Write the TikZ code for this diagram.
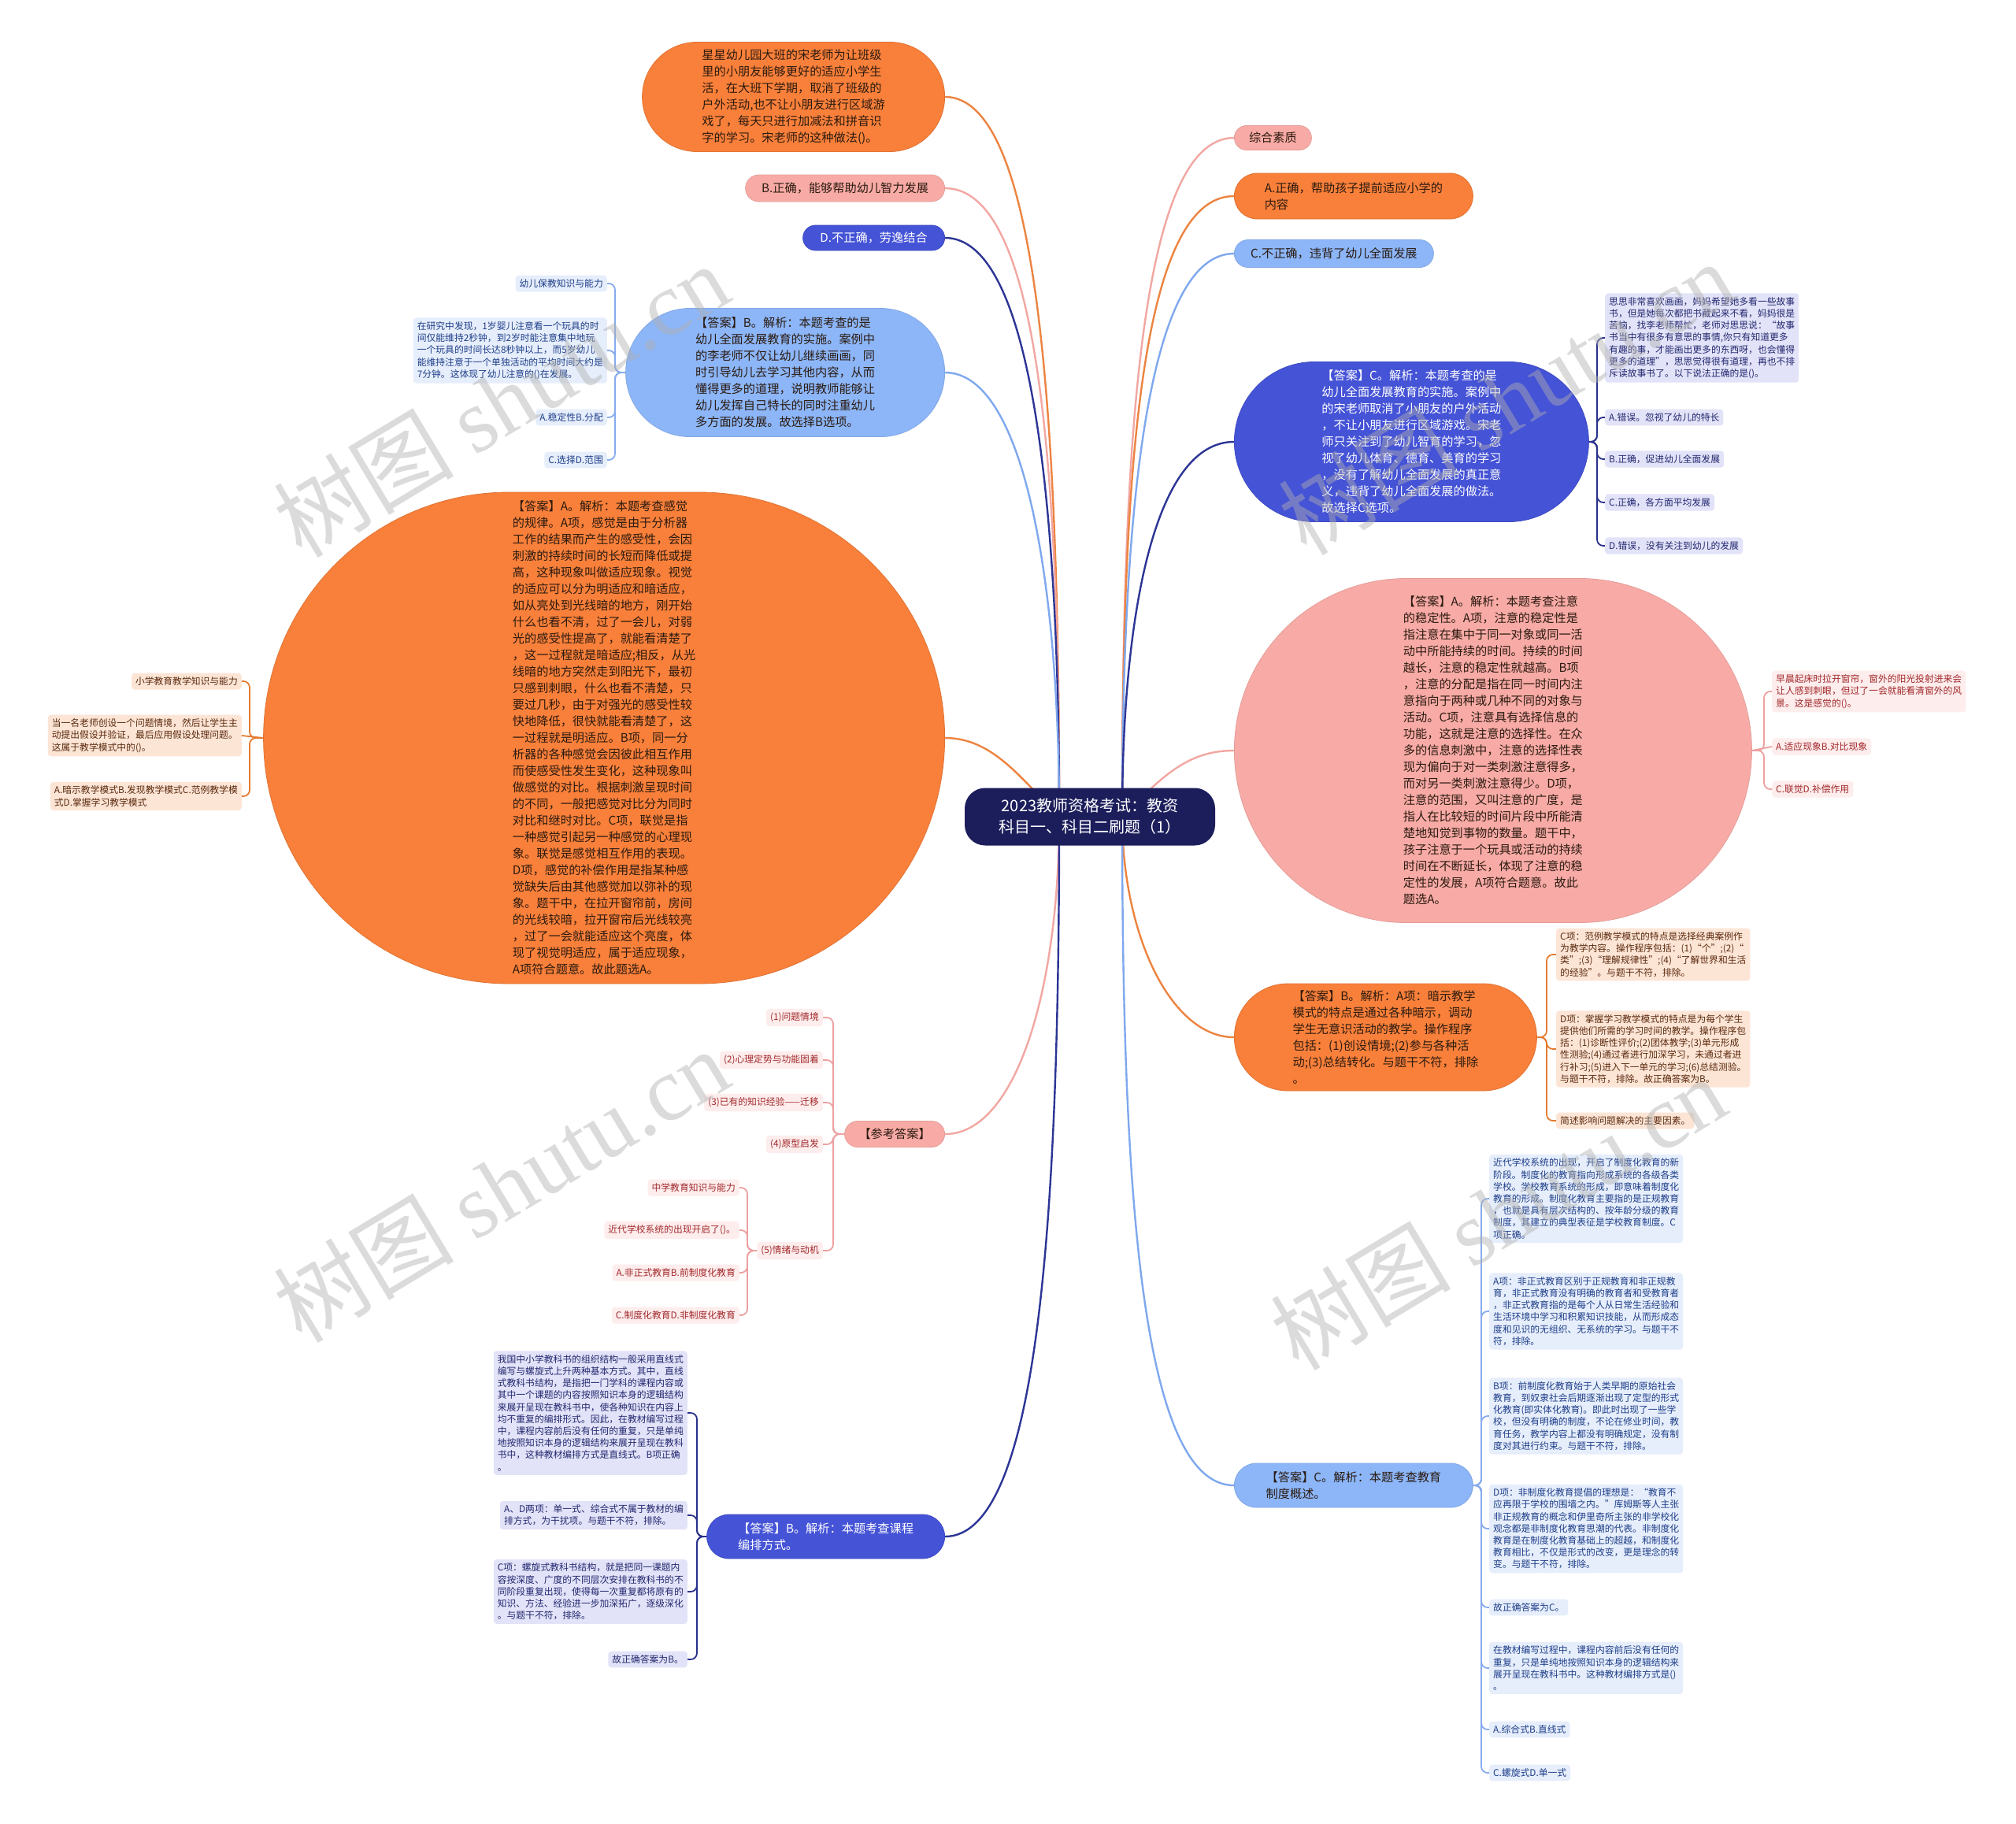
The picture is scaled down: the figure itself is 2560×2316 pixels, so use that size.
\documentclass[tikz,border=0pt]{standalone}
\usepackage{fontspec}
\setmainfont{Noto Sans CJK SC}
\newfontfamily\wmserif{Liberation Serif}
\usetikzlibrary{shapes.misc,backgrounds,calc}
\definecolor{orF}{HTML}{F9803A}
\definecolor{orL}{HTML}{EC8441}
\definecolor{pkF}{HTML}{F8ABA6}
\definecolor{pkL}{HTML}{F2A7A2}
\definecolor{nvF}{HTML}{4553D6}
\definecolor{nvL}{HTML}{2C3595}
\definecolor{lbF}{HTML}{8CB6F8}
\definecolor{lbL}{HTML}{7FA8EE}
\definecolor{rootF}{HTML}{1C1E5C}
\definecolor{tDark}{HTML}{2B1A10}
\definecolor{cOrF}{HTML}{FDE5D6}
\definecolor{cOrT}{HTML}{5A2A0E}
\definecolor{cOrL}{HTML}{E37B32}
\definecolor{cPkF}{HTML}{FDEDEC}
\definecolor{cPkT}{HTML}{A2282C}
\definecolor{cPkL}{HTML}{EDA0A0}
\definecolor{cNvF}{HTML}{E2E3F8}
\definecolor{cNvT}{HTML}{23276E}
\definecolor{cNvL}{HTML}{28308A}
\definecolor{cLbF}{HTML}{E6EEFC}
\definecolor{cLbT}{HTML}{1E3E88}
\definecolor{cLbL}{HTML}{86ABEE}
\definecolor{wmC}{HTML}{B0B0B0}
\tikzset{
  big/.style={rounded rectangle, inner xsep=0pt, inner ysep=0pt, align=left,
    font=\fontsize{15.2}{21}\selectfont, line width=0.8pt},
  orB/.style={big, fill=orF, draw=orF!90!black, text=tDark},
  pkB/.style={big, fill=pkF, draw=pkF!92!black, text=tDark},
  nvB/.style={big, fill=nvF, draw=nvF!90!black, text=white},
  lbB/.style={big, fill=lbF, draw=lbF!92!black, text=tDark},
  rootnode/.style={rectangle, rounded corners=26pt, fill=rootF, text=white, align=center,
    minimum width=318pt, minimum height=73pt, font=\fontsize{20}{27}\selectfont},
  leaf/.style={rectangle, rounded corners=4pt, inner xsep=5pt, inner ysep=5pt, align=left,
    font=\fontsize{11.8}{15.2}\selectfont},
  orC/.style={leaf, fill=cOrF, text=cOrT},
  pkC/.style={leaf, fill=cPkF, text=cPkT},
  nvC/.style={leaf, fill=cNvF, text=cNvT},
  lbC/.style={leaf, fill=cLbF, text=cLbT},
  conn/.style={line width=2.4pt},
  sp/.style={line width=1.8pt, rounded corners=8pt},
  wm/.style={text=wmC, opacity=0.45, font=\fontsize{115}{120}\selectfont, inner sep=0pt},
}
\begin{document}
\begin{tikzpicture}[x=1pt,y=-1pt]
\useasboundingbox (0,0) rectangle (2560,2316);
\begin{pgfonlayer}{background}
\fill[white] (0,0) rectangle (2560,2316);
\end{pgfonlayer}

% root
\node[rootnode] (root) at (1384,1037) {2023教师资格考试：教资\\科目一、科目二刷题（1）};
\coordinate (sL) at (1345,1037);
\coordinate (sR) at (1425,1037);

% left branches
\node[orB, anchor=east, minimum width=384pt, minimum height=139pt] (q1) at (1200,123)
 {星星幼儿园大班的宋老师为让班级\\里的小朋友能够更好的适应小学生\\活，在大班下学期，取消了班级的\\户外活动,也不让小朋友进行区域游\\戏了，每天只进行加减法和拼音识\\字的学习。宋老师的这种做法()。};
\node[pkB, anchor=east, minimum width=253pt, minimum height=34pt] (bB) at (1200,239) {B.正确，能够帮助幼儿智力发展};
\node[nvB, anchor=east, minimum width=180pt, minimum height=32pt] (bD) at (1200,302) {D.不正确，劳逸结合};
\node[lbB, anchor=east, minimum width=405pt, minimum height=163pt] (lb) at (1200,473)
 {【答案】B。解析：本题考查的是\\幼儿全面发展教育的实施。案例中\\的李老师不仅让幼儿继续画画，同\\时引导幼儿去学习其他内容，从而\\懂得更多的道理，说明教师能够让\\幼儿发挥自己特长的同时注重幼儿\\多方面的发展。故选择B选项。};
\node[orB, anchor=east, minimum width=865pt, minimum height=624pt] (bo) at (1200,937)
 {【答案】A。解析：本题考查感觉\\的规律。A项，感觉是由于分析器\\工作的结果而产生的感受性，会因\\刺激的持续时间的长短而降低或提\\高，这种现象叫做适应现象。视觉\\的适应可以分为明适应和暗适应，\\如从亮处到光线暗的地方，刚开始\\什么也看不清，过了一会儿，对弱\\光的感受性提高了，就能看清楚了\\，这一过程就是暗适应;相反，从光\\线暗的地方突然走到阳光下，最初\\只感到刺眼，什么也看不清楚，只\\要过几秒，由于对强光的感受性较\\快地降低，很快就能看清楚了，这\\一过程就是明适应。B项，同一分\\析器的各种感觉会因彼此相互作用\\而使感受性发生变化，这种现象叫\\做感觉的对比。根据刺激呈现时间\\的不同，一般把感觉对比分为同时\\对比和继时对比。C项，联觉是指\\一种感觉引起另一种感觉的心理现\\象。联觉是感觉相互作用的表现。\\D项，感觉的补偿作用是指某种感\\觉缺失后由其他感觉加以弥补的现\\象。题干中，在拉开窗帘前，房间\\的光线较暗，拉开窗帘后光线较亮\\，过了一会就能适应这个亮度，体\\现了视觉明适应，属于适应现象，\\A项符合题意。故此题选A。};
\node[pkB, anchor=east, minimum width=127pt, minimum height=33pt] (ref) at (1200,1440) {【参考答案】};
\node[nvB, anchor=east, minimum width=302pt, minimum height=56pt] (bn) at (1200,1951) {【答案】B。解析：本题考查课程\\编排方式。};

% right branches
\node[pkB, anchor=west, minimum width=98pt, minimum height=31pt] (zh) at (1567,175) {综合素质};
\node[orB, anchor=west, minimum width=303pt, minimum height=58pt] (rA) at (1567,249) {A.正确，帮助孩子提前适应小学的\\内容};
\node[lbB, anchor=west, minimum width=253pt, minimum height=35pt] (rC) at (1567,322) {C.不正确，违背了幼儿全面发展};
\node[nvB, anchor=west, minimum width=450pt, minimum height=203pt] (rb) at (1567,561)
 {【答案】C。解析：本题考查的是\\幼儿全面发展教育的实施。案例中\\的宋老师取消了小朋友的户外活动\\，不让小朋友进行区域游戏。宋老\\师只关注到了幼儿智育的学习，忽\\视了幼儿体育、德育、美育的学习\\，没有了解幼儿全面发展的真正意\\义，违背了幼儿全面发展的做法。\\故选择C选项。};
\node[pkB, anchor=west, minimum width=657pt, minimum height=437pt] (rp) at (1567,953)
 {【答案】A。解析：本题考查注意\\的稳定性。A项，注意的稳定性是\\指注意在集中于同一对象或同一活\\动中所能持续的时间。持续的时间\\越长，注意的稳定性就越高。B项\\，注意的分配是指在同一时间内注\\意指向于两种或几种不同的对象与\\活动。C项，注意具有选择信息的\\功能，这就是注意的选择性。在众\\多的信息刺激中，注意的选择性表\\现为偏向于对一类刺激注意得多，\\而对另一类刺激注意得少。D项，\\注意的范围，又叫注意的广度，是\\指人在比较短的时间片段中所能清\\楚地知觉到事物的数量。题干中，\\孩子注意于一个玩具或活动的持续\\时间在不断延长，体现了注意的稳\\定性的发展，A项符合题意。故此\\题选A。};
\node[orB, anchor=west, minimum width=384pt, minimum height=136pt] (ro) at (1567,1317)
 {【答案】B。解析：A项：暗示教学\\模式的特点是通过各种暗示，调动\\学生无意识活动的教学。操作程序\\包括：(1)创设情境;(2)参与各种活\\动;(3)总结转化。与题干不符，排除\\。};
\node[lbB, anchor=west, minimum width=303pt, minimum height=56pt] (rl) at (1567,1886) {【答案】C。解析：本题考查教育\\制度概述。};

% children of lb
\node[lbC, anchor=east] (c1) at (771,360) {幼儿保教知识与能力};
\node[lbC, anchor=east] (c2) at (771,445) {在研究中发现，1岁婴儿注意看一个玩具的时\\间仅能维持2秒钟，到2岁时能注意集中地玩\\一个玩具的时间长达8秒钟以上，而5岁幼儿\\能维持注意于一个单独活动的平均时间大约是\\7分钟。这体现了幼儿注意的()在发展。};
\node[lbC, anchor=east] (c3) at (771,530) {A.稳定性B.分配};
\node[lbC, anchor=east] (c4) at (771,584) {C.选择D.范围};
\coordinate (lbS) at (781,473);

% children of bo
\node[orC, anchor=east] (d1) at (307,865) {小学教育教学知识与能力};
\node[orC, anchor=east] (d2) at (307,934) {当一名老师创设一个问题情境，然后让学生主\\动提出假设并验证，最后应用假设处理问题。\\这属于教学模式中的()。};
\node[orC, anchor=east] (d3) at (307,1011) {A.暗示教学模式B.发现教学模式C.范例教学模\\式D.掌握学习教学模式};
\coordinate (boS) at (317,937);

% children of ref
\node[pkC, anchor=east] (r1) at (1045,1292) {(1)问题情境};
\node[pkC, anchor=east] (r2) at (1045,1346) {(2)心理定势与功能固着};
\node[pkC, anchor=east] (r3) at (1045,1400) {(3)已有的知识经验——迁移};
\node[pkC, anchor=east] (r4) at (1045,1453) {(4)原型启发};
\node[pkC, anchor=east] (r5) at (1045,1588) {(5)情绪与动机};
\coordinate (refS) at (1058,1440);
\node[pkC, anchor=east] (s1) at (939,1508) {中学教育知识与能力};
\node[pkC, anchor=east] (s2) at (939,1562) {近代学校系统的出现开启了()。};
\node[pkC, anchor=east] (s3) at (939,1616) {A.非正式教育B.前制度化教育};
\node[pkC, anchor=east] (s4) at (939,1670) {C.制度化教育D.非制度化教育};
\coordinate (r5S) at (949,1588);

% children of bn
\node[nvC, anchor=east] (e1) at (873,1794) {我国中小学教科书的组织结构一般采用直线式\\编写与螺旋式上升两种基本方式。其中，直线\\式教科书结构，是指把一门学科的课程内容或\\其中一个课题的内容按照知识本身的逻辑结构\\来展开呈现在教科书中，使各种知识在内容上\\均不重复的编排形式。因此，在教材编写过程\\中，课程内容前后没有任何的重复，只是单纯\\地按照知识本身的逻辑结构来展开呈现在教科\\书中，这种教材编排方式是直线式。B项正确\\。};
\node[nvC, anchor=east] (e2) at (873,1924) {A、D两项：单一式、综合式不属于教材的编\\排方式，为干扰项。与题干不符，排除。};
\node[nvC, anchor=east] (e3) at (873,2021) {C项：螺旋式教科书结构，就是把同一课题内\\容按深度、广度的不同层次安排在教科书的不\\同阶段重复出现，使得每一次重复都将原有的\\知识、方法、经验进一步加深拓广，逐级深化\\。与题干不符，排除。};
\node[nvC, anchor=east] (e4) at (873,2107) {故正确答案为B。};
\coordinate (bnS) at (885,1951);

% children of rb
\node[nvC, anchor=west] (f1) at (2038,429) {思思非常喜欢画画，妈妈希望她多看一些故事\\书，但是她每次都把书藏起来不看，妈妈很是\\苦恼，找李老师帮忙，老师对思思说：“故事\\书当中有很多有意思的事情,你只有知道更多\\有趣的事，才能画出更多的东西呀，也会懂得\\更多的道理”，思思觉得很有道理，再也不排\\斥读故事书了。以下说法正确的是()。};
\node[nvC, anchor=west] (f2) at (2038,530) {A.错误。忽视了幼儿的特长};
\node[nvC, anchor=west] (f3) at (2038,583) {B.正确，促进幼儿全面发展};
\node[nvC, anchor=west] (f4) at (2038,638) {C.正确，各方面平均发展};
\node[nvC, anchor=west] (f5) at (2038,693) {D.错误，没有关注到幼儿的发展};
\coordinate (rbS) at (2028,561);

% children of rp
\node[pkC, anchor=west] (g1) at (2250,878) {早晨起床时拉开窗帘，窗外的阳光投射进来会\\让人感到刺眼，但过了一会就能看清窗外的风\\景。这是感觉的()。};
\node[pkC, anchor=west] (g2) at (2250,948) {A.适应现象B.对比现象};
\node[pkC, anchor=west] (g3) at (2250,1002) {C.联觉D.补偿作用};
\coordinate (rpS) at (2240,953);

% children of ro
\node[orC, anchor=west] (h1) at (1976,1212) {C项：范例教学模式的特点是选择经典案例作\\为教学内容。操作程序包括：(1)“个”;(2)“\\类”;(3)“理解规律性”;(4)“了解世界和生活\\的经验”。与题干不符，排除。};
\node[orC, anchor=west] (h2) at (1976,1332) {D项：掌握学习教学模式的特点是为每个学生\\提供他们所需的学习时间的教学。操作程序包\\括：(1)诊断性评价;(2)团体教学;(3)单元形成\\性测验;(4)通过者进行加深学习，未通过者进\\行补习;(5)进入下一单元的学习;(6)总结测验。\\与题干不符，排除。故正确答案为B。};
\node[orC, anchor=west] (h3) at (1976,1423) {简述影响问题解决的主要因素。};
\coordinate (roS) at (1964,1317);

% children of rl
\node[lbC, anchor=west] (k1) at (1891,1522) {近代学校系统的出现，开启了制度化教育的新\\阶段。制度化的教育指向形成系统的各级各类\\学校。学校教育系统的形成，即意味着制度化\\教育的形成。制度化教育主要指的是正规教育\\，也就是具有层次结构的、按年龄分级的教育\\制度，其建立的典型表征是学校教育制度。C\\项正确。};
\node[lbC, anchor=west] (k2) at (1891,1665) {A项：非正式教育区别于正规教育和非正规教\\育，非正式教育没有明确的教育者和受教育者\\，非正式教育指的是每个人从日常生活经验和\\生活环境中学习和积累知识技能，从而形成态\\度和见识的无组织、无系统的学习。与题干不\\符，排除。};
\node[lbC, anchor=west] (k3) at (1891,1798) {B项：前制度化教育始于人类早期的原始社会\\教育，到奴隶社会后期逐渐出现了定型的形式\\化教育(即实体化教育)。即此时出现了一些学\\校，但没有明确的制度，不论在修业时间，教\\育任务，教学内容上都没有明确规定，没有制\\度对其进行约束。与题干不符，排除。};
\node[lbC, anchor=west] (k4) at (1891,1941) {D项：非制度化教育提倡的理想是：“教育不\\应再限于学校的围墙之内。”库姆斯等人主张\\非正规教育的概念和伊里奇所主张的非学校化\\观念都是非制度化教育思潮的代表。非制度化\\教育是在制度化教育基础上的超越，和制度化\\教育相比，不仅是形式的改变，更是理念的转\\变。与题干不符，排除。};
\node[lbC, anchor=west] (k5) at (1891,2041) {故正确答案为C。};
\node[lbC, anchor=west] (k6) at (1891,2118) {在教材编写过程中，课程内容前后没有任何的\\重复，只是单纯地按照知识本身的逻辑结构来\\展开呈现在教科书中。这种教材编排方式是()\\。};
\node[lbC, anchor=west] (k7) at (1891,2196) {A.综合式B.直线式};
\node[lbC, anchor=west] (k8) at (1891,2251) {C.螺旋式D.单一式};
\coordinate (rlS) at (1881,1886);

\begin{pgfonlayer}{background}
% root connectors
\draw[conn, orL] (sL) .. controls ($(sL)+(0,-500)$) and ($(q1.east)+(120,0)$) .. (q1.east);
\draw[conn, pkL] (sL) .. controls ($(sL)+(0,-440)$) and ($(bB.east)+(120,0)$) .. (bB.east);
\draw[conn, nvL] (sL) .. controls ($(sL)+(0,-400)$) and ($(bD.east)+(110,0)$) .. (bD.east);
\draw[conn, lbL] (sL) .. controls ($(sL)+(0,-300)$) and ($(lb.east)+(100,0)$) .. (lb.east);
\draw[conn, orL] (sL) .. controls ($(sL)+(-50,-50)$) and ($(bo.east)+(60,0)$) .. (bo.east);
\draw[conn, pkL] (sL) .. controls ($(sL)+(0,220)$) and ($(ref.east)+(90,0)$) .. (ref.east);
\draw[conn, nvL] (sL) .. controls ($(sL)+(0,500)$) and ($(bn.east)+(120,0)$) .. (bn.east);
\draw[conn, pkL] (sR) .. controls ($(sR)+(0,-470)$) and ($(zh.west)+(-120,0)$) .. (zh.west);
\draw[conn, orL] (sR) .. controls ($(sR)+(0,-430)$) and ($(rA.west)+(-120,0)$) .. (rA.west);
\draw[conn, lbL] (sR) .. controls ($(sR)+(0,-390)$) and ($(rC.west)+(-110,0)$) .. (rC.west);
\draw[conn, nvL] (sR) .. controls ($(sR)+(0,-260)$) and ($(rb.west)+(-100,0)$) .. (rb.west);
\draw[conn, pkL] (sR) .. controls ($(sR)+(50,-50)$) and ($(rp.west)+(-60,0)$) .. (rp.west);
\draw[conn, orL] (sR) .. controls ($(sR)+(0,150)$) and ($(ro.west)+(-80,0)$) .. (ro.west);
\draw[conn, lbL] (sR) .. controls ($(sR)+(0,460)$) and ($(rl.west)+(-120,0)$) .. (rl.west);
% child connectors
\foreach \c in {c1,c2,c3,c4} \draw[sp, cLbL] (lb.west) -- (lbS) |- (\c.east);
\foreach \c in {d1,d3} \draw[sp, cOrL] (bo.west) -- (boS) |- (\c.east);
\draw[sp, cOrL] (bo.west) -- (d2.east);
\foreach \c in {r1,r2,r3,r4,r5} \draw[sp, cPkL] (ref.west) -- (refS) |- (\c.east);
\foreach \c in {s1,s2,s3,s4} \draw[sp, cPkL] (r5.west) -- (r5S) |- (\c.east);
\foreach \c in {e1,e2,e3,e4} \draw[sp, cNvL] (bn.west) -- (bnS) |- (\c.east);
\foreach \c in {f1,f2,f3,f4,f5} \draw[sp, cNvL] (rb.east) -- (rbS) |- (\c.west);
\foreach \c in {g1,g3} \draw[sp, cPkL] (rp.east) -- (rpS) |- (\c.west);
\draw[sp, cPkL] (rp.east) -- (g2.west);
\foreach \c in {h1,h2,h3} \draw[sp, cOrL] (ro.east) -- (roS) |- (\c.west);
\foreach \c in {k1,k2,k3,k4,k5,k6,k7,k8} \draw[sp, cLbL] (rl.east) -- (rlS) |- (\c.west);
\end{pgfonlayer}

% watermarks
\node[wm, rotate=31] (w1) at (636,508) {树图 {\wmserif shutu.cn}};
\node[wm, rotate=31] (w2) at (636,1505) {树图 {\wmserif shutu.cn}};
\node[wm, rotate=31] (w3) at (1912,505) {树图 {\wmserif shutu.cn}};
\node[wm, rotate=31] (w4) at (1902,1540) {树图 {\wmserif shutu.cn}};
\end{tikzpicture}
\end{document}
